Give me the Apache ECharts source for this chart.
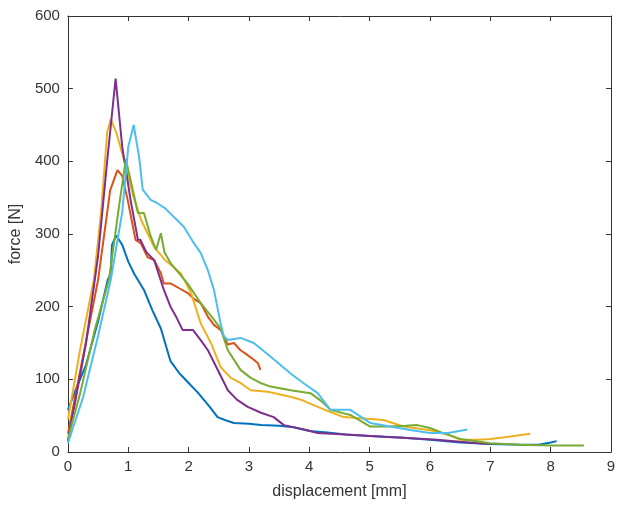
<!DOCTYPE html>
<html style="height: 100%">
<head>
<meta charset="utf-8">
<script src="https://cdn.jsdelivr.net/npm/echarts@6/dist/echarts.min.js"></script>
</head>
<body style="height: 100%; margin: 0; background: #fff">
<div id="container" style="width: 624px; height: 511px"></div>
<script>
// data: [displacement mm, force N]
var s1 = [[0,58],[0.15,90],[0.3,120],[0.5,180],[0.66,237],[0.71,245],[0.73,285],[0.8,298],[0.9,285],[1.0,262],[1.1,245],[1.26,223],[1.4,195],[1.54,170],[1.7,125],[1.85,108],[2.0,95],[2.15,82],[2.25,72],[2.35,62],[2.48,48],[2.6,44],[2.75,40],[3.0,39],[3.2,37],[3.5,36],[3.74,34],[4.0,29],[4.3,27],[4.6,24],[5.0,22],[5.5,20],[6.0,17],[6.5,13],[7.0,11],[7.5,10],[7.8,10],[8.0,13],[8.1,15]];
var s2 = [[0,25],[0.2,110],[0.5,237],[0.7,360],[0.82,388],[0.9,380],[0.99,347],[1.12,292],[1.21,287],[1.32,268],[1.43,264],[1.54,246],[1.59,232],[1.7,232],[1.85,225],[1.98,219],[2.1,210],[2.2,205],[2.32,186],[2.42,175],[2.53,168],[2.65,148],[2.75,150],[2.86,140],[2.95,135],[3.08,127],[3.15,122],[3.19,113]];
var s3 = [[0,45],[0.2,140],[0.43,237],[0.55,330],[0.65,440],[0.71,458],[0.8,440],[0.93,402],[1.09,350],[1.21,320],[1.43,282],[1.6,265],[1.87,246],[2.04,219],[2.2,177],[2.37,150],[2.53,117],[2.7,102],[2.86,95],[3.03,85],[3.31,83],[3.69,76],[3.86,72],[4.14,62],[4.35,55],[4.57,48],[4.9,46],[5.23,44],[5.56,35],[6.0,30],[6.3,24],[6.5,17],[6.8,17],[7.0,18],[7.3,21],[7.66,25]];
var s4 = [[0,15],[0.3,150],[0.5,270],[0.65,400],[0.79,514],[0.9,420],[1.04,346],[1.16,292],[1.2,292],[1.3,275],[1.43,264],[1.59,223],[1.7,200],[1.8,185],[1.9,168],[2.07,168],[2.2,154],[2.32,140],[2.5,110],[2.65,85],[2.8,72],[2.98,62],[3.2,54],[3.41,48],[3.58,37],[3.97,30],[4.14,26],[4.6,24],[5.23,21],[5.7,19],[6.12,17],[6.5,14],[6.8,12],[7.0,11]];
var s5 = [[0,18],[0.2,80],[0.45,170],[0.68,237],[0.85,340],[0.96,403],[1.05,370],[1.16,329],[1.26,329],[1.36,300],[1.46,278],[1.54,301],[1.6,275],[1.7,260],[1.85,245],[1.98,232],[2.2,205],[2.42,182],[2.53,170],[2.65,140],[2.86,113],[3.03,102],[3.19,95],[3.36,90],[3.69,85],[4.02,81],[4.2,70],[4.35,58],[4.68,51],[5.01,35],[5.34,35],[5.6,36],[5.79,37],[6.0,33],[6.22,26],[6.5,18],[7.0,12],[7.5,10],[8.0,9],[8.55,9]];
var s6 = [[0,12],[0.25,75],[0.5,160],[0.71,237],[0.9,330],[1.0,420],[1.09,450],[1.13,430],[1.18,406],[1.24,361],[1.37,347],[1.49,342],[1.6,336],[1.7,328],[1.92,310],[2.09,287],[2.2,274],[2.32,250],[2.42,223],[2.53,177],[2.58,160],[2.65,154],[2.86,157],[3.08,150],[3.36,131],[3.69,108],[3.9,95],[4.14,81],[4.35,58],[4.68,58],[5.01,40],[5.34,35],[5.7,30],[6.0,26],[6.3,26],[6.62,31]];

var seriesData = [s1, s2, s3, s4, s5, s6];
var colors = ['#0072BD', '#D95319', '#EDB120', '#7E2F8E', '#77AC30', '#4DBEEE'];

var axisColor = '#333333';
var dom = document.getElementById('container');
var myChart = echarts.init(dom);

var option = {
    backgroundColor: '#ffffff',
    animation: false,
    grid: { left: 67, right: 13, top: 16, bottom: 59, containLabel: false },
    xAxis: [
        {
            type: 'value', min: 0, max: 9, interval: 1,
            name: 'displacement [mm]', nameLocation: 'middle', nameGap: 32,
            nameTextStyle: { fontFamily: 'Liberation Sans', fontSize: 16, color: axisColor },
            axisLine: { onZero: false, lineStyle: { color: axisColor, width: 1 } },
            axisTick: { inside: true, length: 5, lineStyle: { color: axisColor } },
            axisLabel: { margin: 7, fontFamily: 'Liberation Sans', fontSize: 15, color: axisColor },
            splitLine: { show: false }
        },
        {
            type: 'value', min: 0, max: 9, interval: 1, position: 'top',
            axisLine: { show: true, onZero: false, lineStyle: { color: axisColor, width: 1 } },
            axisTick: { inside: true, length: 5, lineStyle: { color: axisColor } },
            axisLabel: { show: false },
            splitLine: { show: false }
        }
    ],
    yAxis: [
        {
            type: 'value', min: 0, max: 600, interval: 100,
            name: 'force [N]', nameLocation: 'middle', nameGap: 42,
            nameTextStyle: { fontFamily: 'Liberation Sans', fontSize: 16, color: axisColor },
            axisLine: { show: true, onZero: false, lineStyle: { color: axisColor, width: 1 } },
            axisTick: { show: true, inside: true, length: 5, lineStyle: { color: axisColor } },
            axisLabel: { margin: 8, fontFamily: 'Liberation Sans', fontSize: 15, color: axisColor },
            splitLine: { show: false }
        },
        {
            type: 'value', min: 0, max: 600, interval: 100, position: 'right',
            axisLine: { show: true, onZero: false, lineStyle: { color: axisColor, width: 1 } },
            axisTick: { show: true, inside: true, length: 5, lineStyle: { color: axisColor } },
            axisLabel: { show: false },
            splitLine: { show: false }
        }
    ],
    series: seriesData.map(function (d, i) {
        return {
            type: 'line',
            data: d,
            showSymbol: false,
            symbol: 'none',
            lineStyle: { color: colors[i], width: 2 },
            z: 2 + i
        };
    })
};

myChart.setOption(option);
</script>
</body>
</html>
